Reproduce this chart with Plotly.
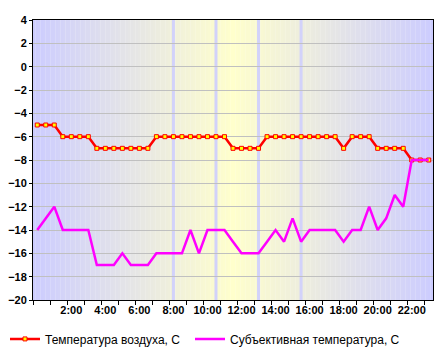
import plotly.graph_objects as go
import numpy as np

# Time categories: every half hour from 0:00 to 23:00
times = [f"{h}:{m:02d}" for h in range(24) for m in (0, 30)][:47]
idx = list(range(len(times)))

air_temp = [-5, -5, -5, -6, -6, -6, -6, -7, -7, -7, -7, -7, -7, -7,
            -6, -6, -6, -6, -6, -6, -6, -6, -6,
            -7, -7, -7, -7,
            -6, -6, -6, -6, -6, -6, -6, -6, -6,
            -7, -6, -6, -6, -7, -7, -7, -7, -8, -8, -8]

feel_temp = [-14, -13, -12, -14, -14, -14, -14, -17, -17, -17, -16, -17, -17, -17,
             -16, -16, -16, -16, -14, -16, -14, -14, -14, -15, -16, -16, -16,
             -15, -14, -15, -13, -15, -14, -14, -14, -14, -15, -14, -14, -12,
             -14, -13, -11, -12, -8, -8, -8]

label_every = 4
label_idx = [i for i in idx if i % label_every == 0 and i > 0]
label_txt = [times[i] for i in label_idx]
band_idx = [16, 21, 26, 31]

series_names = ["Температура воздуха, С", "Субъективная температура, С"]

xmin, xmax = -0.5, len(times) - 0.5
ymin, ymax = -20, 4

fig = go.Figure()

fig.add_trace(go.Scatter(
    x=idx, y=air_temp, name=series_names[0], mode="lines+markers",
    line=dict(color="#ff0000", width=2.5),
    marker=dict(symbol="square", size=4, color="#ffff00",
                line=dict(color="#ff0000", width=1)),
    legend="legend", hoverinfo="skip"))
fig.add_trace(go.Scatter(
    x=idx, y=feel_temp, name=series_names[1], mode="lines",
    line=dict(color="#ff00ff", width=2.5),
    legend="legend2", hoverinfo="skip"))

# background gradient (blue at edges -> yellow at centre)
shapes = []
n = 160
edges = np.linspace(xmin, xmax, n + 1)
c_edge = np.array([0xcc, 0xcc, 0xff])
c_mid = np.array([0xff, 0xff, 0xcc])
center = (xmin + xmax) / 2
half = (xmax - xmin) / 2
for i in range(n):
    xc = (edges[i] + edges[i + 1]) / 2
    t = abs(xc - center) / half
    c = c_mid + (c_edge - c_mid) * t
    col = "rgb(%d,%d,%d)" % tuple(np.round(c).astype(int))
    shapes.append(dict(type="rect", xref="x", yref="paper",
                       x0=edges[i], x1=edges[i + 1] + 0.02, y0=0, y1=1,
                       fillcolor=col, line=dict(width=0), layer="below"))
for b in band_idx:
    shapes.append(dict(type="line", xref="x", yref="paper", x0=b, x1=b, y0=0, y1=1,
                       line=dict(color="#d2d2fa", width=3), layer="below"))

legend_common = dict(orientation="h", xanchor="left", y=-0.139, yanchor="middle",
                     font=dict(size=12, color="#000"), bgcolor="rgba(0,0,0,0)",
                     itemclick=False)

fig.update_layout(
    width=445, height=353,
    margin=dict(l=33, r=12, t=20, b=53, autoexpand=False),
    paper_bgcolor="white", plot_bgcolor="white",
    shapes=shapes,
    font=dict(family="Liberation Sans, Arial, sans-serif", color="#000000"),
    showlegend=True,
    legend=dict(x=-0.07, **legend_common),
    legend2=dict(x=0.3925, **legend_common),
)

fig.update_xaxes(
    range=[xmin, xmax], showgrid=False, zeroline=False,
    showline=True, linecolor="black", linewidth=1, mirror=True,
    tickmode="array", tickvals=label_idx, ticktext=label_txt, ticks="",
    tickfont=dict(size=11, weight="bold", color="#000"),
    minor=dict(tickmode="array", tickvals=[i - 0.5 for i in range(0, len(times) + 1, 2)],
               ticks="outside", ticklen=4, tickcolor="black", tickwidth=1, showgrid=False),
)
fig.update_yaxes(
    range=[ymin, ymax], dtick=2, tick0=0, showgrid=True, gridcolor="#c0c0c0", gridwidth=1,
    zeroline=False, showline=True, linecolor="black", linewidth=1, mirror=True,
    ticks="outside", ticklen=3, tickcolor="black",
    tickfont=dict(size=11, weight="bold", color="#000"),
)

fig.write_html("out.html")
